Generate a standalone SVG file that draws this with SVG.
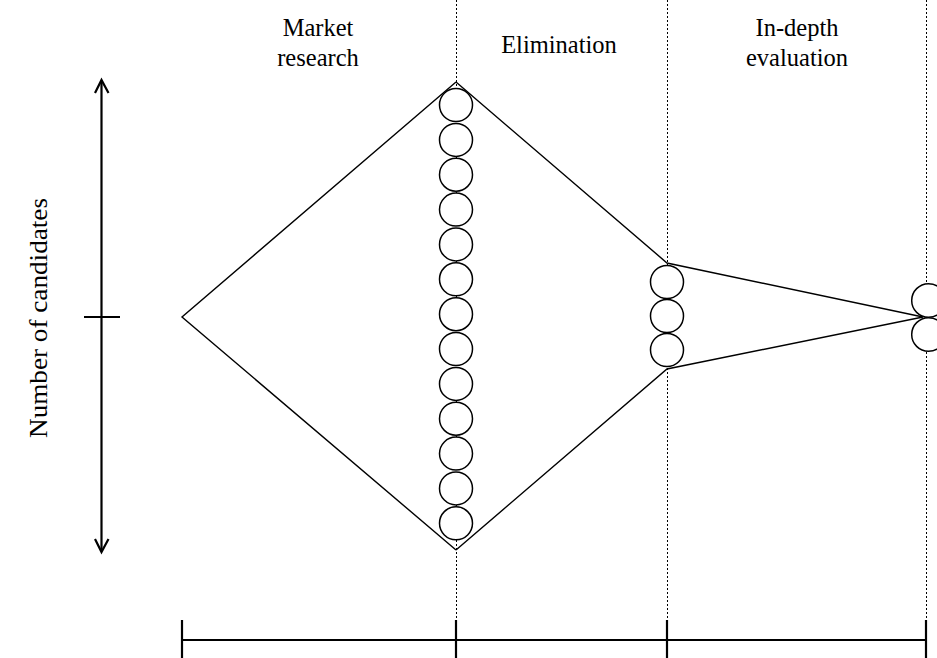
<svg xmlns="http://www.w3.org/2000/svg" width="937" height="658" viewBox="0 0 937 658">
<style>
  .lbl { font-family: "Liberation Serif", "Times New Roman", serif; font-size: 24.5px; fill: #000; text-anchor: middle; }
  .thin { stroke: #000; stroke-width: 1.4; fill: none; }
  .thick { stroke: #000; stroke-width: 2.2; fill: none; }
  .dot { stroke: #000; stroke-width: 1; stroke-dasharray: 2 2; fill: none; }
  .c { stroke: #000; stroke-width: 1.5; fill: #fff; }
</style>
<rect width="937" height="658" fill="#fff"/>
<g id="labels">
  <text class="lbl" x="318" y="36">Market</text>
  <text class="lbl" x="318" y="66">research</text>
  <text class="lbl" x="559" y="53">Elimination</text>
  <text class="lbl" x="797" y="36">In-depth</text>
  <text class="lbl" x="797" y="66">evaluation</text>
  <text class="lbl" transform="translate(47 318) rotate(-90)" x="0" y="0" textLength="240" lengthAdjust="spacingAndGlyphs">Number of candidates</text>
</g>
<g id="connectors">
  <line class="dot" x1="456.5" y1="0" x2="456.5" y2="640"/>
  <line class="dot" x1="667.5" y1="0" x2="667.5" y2="640"/>
  <line class="dot" x1="926.5" y1="0" x2="926.5" y2="640"/>
  <polyline class="thin" points="456,82 182,317 456,550"/>
  <polyline class="thin" points="456,82 667,263 923,317 667,369 456,550"/>
</g>
<g id="y-axis">
  <line class="thick" x1="101.5" y1="81" x2="101.5" y2="551"/>
  <polyline class="thick" points="95,93 101.5,80 108.5,93"/>
  <polyline class="thick" points="95,539 101.5,552 108.5,539"/>
  <line class="thick" x1="84" y1="317" x2="120" y2="317"/>
</g>
<g id="x-axis">
  <line class="thick" x1="182" y1="640" x2="926" y2="640"/>
  <line class="thick" x1="182" y1="620" x2="182" y2="658"/>
  <line class="thick" x1="456" y1="620" x2="456" y2="658"/>
  <line class="thick" x1="667" y1="620" x2="667" y2="658"/>
  <line class="thick" x1="926" y1="620" x2="926" y2="658"/>
</g>
<g id="stage1-candidates">
  <circle class="c" cx="456" cy="105" r="16.5"/>
  <circle class="c" cx="456" cy="139.9" r="16.5"/>
  <circle class="c" cx="456" cy="174.7" r="16.5"/>
  <circle class="c" cx="456" cy="209.6" r="16.5"/>
  <circle class="c" cx="456" cy="244.4" r="16.5"/>
  <circle class="c" cx="456" cy="279.3" r="16.5"/>
  <circle class="c" cx="456" cy="314.2" r="16.5"/>
  <circle class="c" cx="456" cy="349.0" r="16.5"/>
  <circle class="c" cx="456" cy="383.9" r="16.5"/>
  <circle class="c" cx="456" cy="418.7" r="16.5"/>
  <circle class="c" cx="456" cy="453.6" r="16.5"/>
  <circle class="c" cx="456" cy="488.4" r="16.5"/>
  <circle class="c" cx="456" cy="523.3" r="16.5"/>
</g>
<g id="stage2-candidates">
  <circle class="c" cx="667" cy="282" r="16.5"/>
  <circle class="c" cx="667" cy="316" r="16.5"/>
  <circle class="c" cx="667" cy="350" r="16.5"/>
</g>
<g id="stage3-candidates">
  <circle class="c" cx="928.5" cy="300.5" r="16.8"/>
  <circle class="c" cx="928.5" cy="334.5" r="16.8"/>
</g>
</svg>
